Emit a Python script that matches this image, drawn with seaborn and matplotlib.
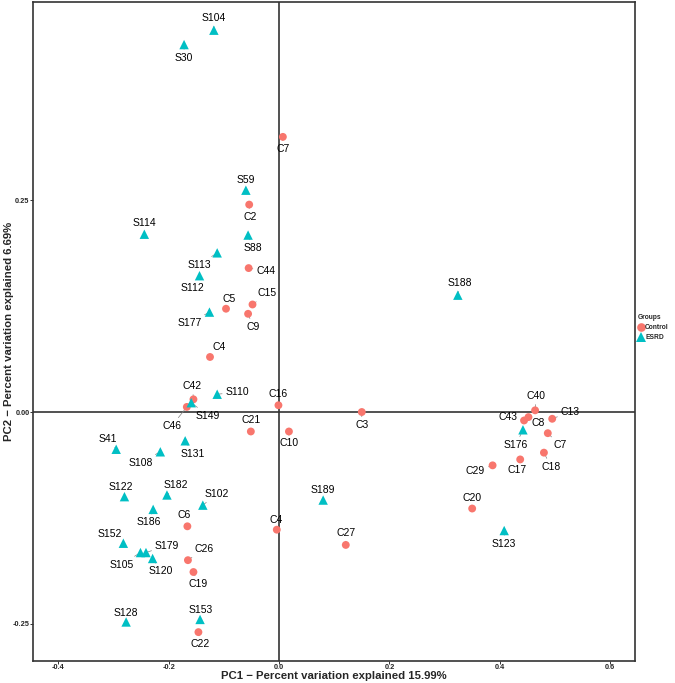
import numpy as np
import pandas as pd
import matplotlib
matplotlib.use("Agg")
import matplotlib.pyplot as plt
import seaborn as sns

# PCA scores
control_ids = ["C7", "C2", "C44", "C15", "C5", "C9", "C4", "C42", "C46", "C16",
               "C21", "C10", "C3", "C6", "C4", "C26", "C19", "C22", "C27", "C40",
               "C43", "C8", "C13", "C7", "C18", "C17", "C29", "C20"]
control_pc1 = [0.007, -0.054, -0.055, -0.048, -0.096, -0.056, -0.125, -0.155, -0.167, -0.001,
               -0.051, 0.018, 0.150, -0.166, -0.004, -0.165, -0.155, -0.146, 0.121, 0.464,
               0.444, 0.452, 0.495, 0.487, 0.480, 0.437, 0.387, 0.350]
control_pc2 = [0.325, 0.245, 0.170, 0.127, 0.122, 0.116, 0.065, 0.015, 0.006, 0.008,
               -0.023, -0.023, 0.000, -0.135, -0.139, -0.175, -0.189, -0.260, -0.157, 0.002,
               -0.010, -0.006, -0.008, -0.025, -0.048, -0.056, -0.063, -0.114]

esrd_ids = ["S104", "S30", "S59", "S114", "S88", "S113", "S112", "S177", "S188", "S110",
            "S149", "S41", "S108", "S131", "S176", "S122", "S182", "S102", "S186", "S189",
            "S152", "S105", "S179", "S120", "S123", "S128", "S153"]
esrd_pc1 = [-0.118, -0.172, -0.060, -0.244, -0.056, -0.112, -0.144, -0.126, 0.324, -0.112,
            -0.159, -0.295, -0.215, -0.170, 0.442, -0.280, -0.203, -0.138, -0.228, 0.080,
            -0.282, -0.251, -0.241, -0.229, 0.408, -0.277, -0.143]
esrd_pc2 = [0.451, 0.434, 0.262, 0.210, 0.209, 0.188, 0.161, 0.118, 0.138, 0.021,
            0.011, -0.044, -0.047, -0.034, -0.021, -0.100, -0.098, -0.110, -0.115, -0.104,
            -0.155, -0.166, -0.166, -0.173, -0.140, -0.248, -0.245]

# label placement (pixel offsets from each point), repel-style
control_off = [(0, -12), (1, -12), (17, -3), (15, 11), (3, 10), (5, -13), (9, 10), (-1, 13),
               (-15, -19), (0, 11), (0, 11), (0, -12), (0, -13), (-3, 11), (-1, 10), (16, 11),
               (5, -12), (2, -12), (0, 12), (1, 14), (-16, 3), (10, -6), (18, 7), (12, -12),
               (7, -14), (-3, -11), (-17, -6), (0, 11)]
esrd_off = [(0, 12), (0, -13), (0, 10), (0, 11), (5, -13), (-18, -12), (-7, -12), (-20, -11),
            (2, 12), (20, 2), (17, -13), (-8, 10), (-20, -11), (8, -13), (-7, -15), (-4, 10),
            (9, 10), (14, 11), (-4, -13), (0, 10), (-14, 9), (-19, -12), (21, 7), (8, -13),
            (0, -13), (0, 9), (1, 9)]

df = pd.concat([
    pd.DataFrame({"ID": control_ids, "PC1": control_pc1, "PC2": control_pc2, "Groups": "Control"}),
    pd.DataFrame({"ID": esrd_ids, "PC1": esrd_pc1, "PC2": esrd_pc2, "Groups": "ESRD"}),
], ignore_index=True)
offsets = control_off + esrd_off

sns.set_theme(style="white")
plt.rcParams["font.family"] = ["Liberation Sans", "DejaVu Sans"]

fig = plt.figure(figsize=(6.75, 6.83), dpi=100)
ax = fig.add_axes([33 / 675, 22 / 683, 602 / 675, 659 / 683])

ax.axhline(0, color="#333333", lw=1.2, zorder=1)
ax.axvline(0, color="#333333", lw=1.2, zorder=1)

pal = {"Control": "#F8766D", "ESRD": "#00BFC4"}
sns.scatterplot(data=df, x="PC1", y="PC2", hue="Groups", style="Groups",
                size="Groups", sizes={"Control": 32, "ESRD": 46},
                markers={"Control": "o", "ESRD": "^"}, palette=pal,
                edgecolor="none", linewidth=0, ax=ax, zorder=3)

for (i, row), (dx, dy) in zip(df.iterrows(), offsets):
    ax.annotate(row["ID"], xy=(row["PC1"], row["PC2"]), xytext=(dx, dy),
                textcoords="offset pixels", ha="center", va="center",
                fontsize=7.5, color="black", zorder=2,
                arrowprops=dict(arrowstyle="-", color="#808080", lw=0.5,
                                shrinkA=0, shrinkB=0))

ax.set_xlim(-0.4457, 0.645)
ax.set_ylim(-0.2941, 0.4843)
ax.set_xticks([-0.4, -0.2, 0.0, 0.2, 0.4, 0.6])
ax.set_xticklabels(["-0.4", "-0.2", "0.0", "0.2", "0.4", "0.6"])
ax.set_yticks([-0.25, 0.0, 0.25])
ax.set_yticklabels(["-0.25", "0.00", "0.25"])
ax.tick_params(axis="both", which="major", length=2, width=0.7, color="#333333",
               labelsize=5.3, pad=0.5, bottom=True, left=True)
for lab in ax.get_xticklabels() + ax.get_yticklabels():
    lab.set_fontweight("bold")

for sp in ax.spines.values():
    sp.set_color("#333333")
    sp.set_linewidth(1.2)

ax.set_xlabel("PC1 \u2212 Percent variation explained 15.99%", fontsize=8.2, fontweight="bold")
ax.set_ylabel("PC2 \u2212 Percent variation explained 6.69%", fontsize=8.2, fontweight="bold")
ax.xaxis.set_label_coords(0.5, -0.0145)
ax.yaxis.set_label_coords(-0.032, 0.5)

handles, labels = ax.get_legend_handles_labels()
ax.get_legend().remove()
leg = ax.legend(handles, labels, title="Groups", loc="upper left",
                bbox_to_anchor=(638 / 675, 1 - 314 / 683), bbox_transform=fig.transFigure,
                frameon=False, fontsize=4.8, title_fontsize=4.8, markerscale=1.1,
                handlelength=0.9, handletextpad=0.15, labelspacing=0.45, borderpad=0,
                borderaxespad=0)
leg.get_title().set_fontweight("bold")
leg._legend_box.align = "left"
for t in leg.get_texts():
    t.set_fontweight("bold")

fig.savefig("out.png", dpi=100)
